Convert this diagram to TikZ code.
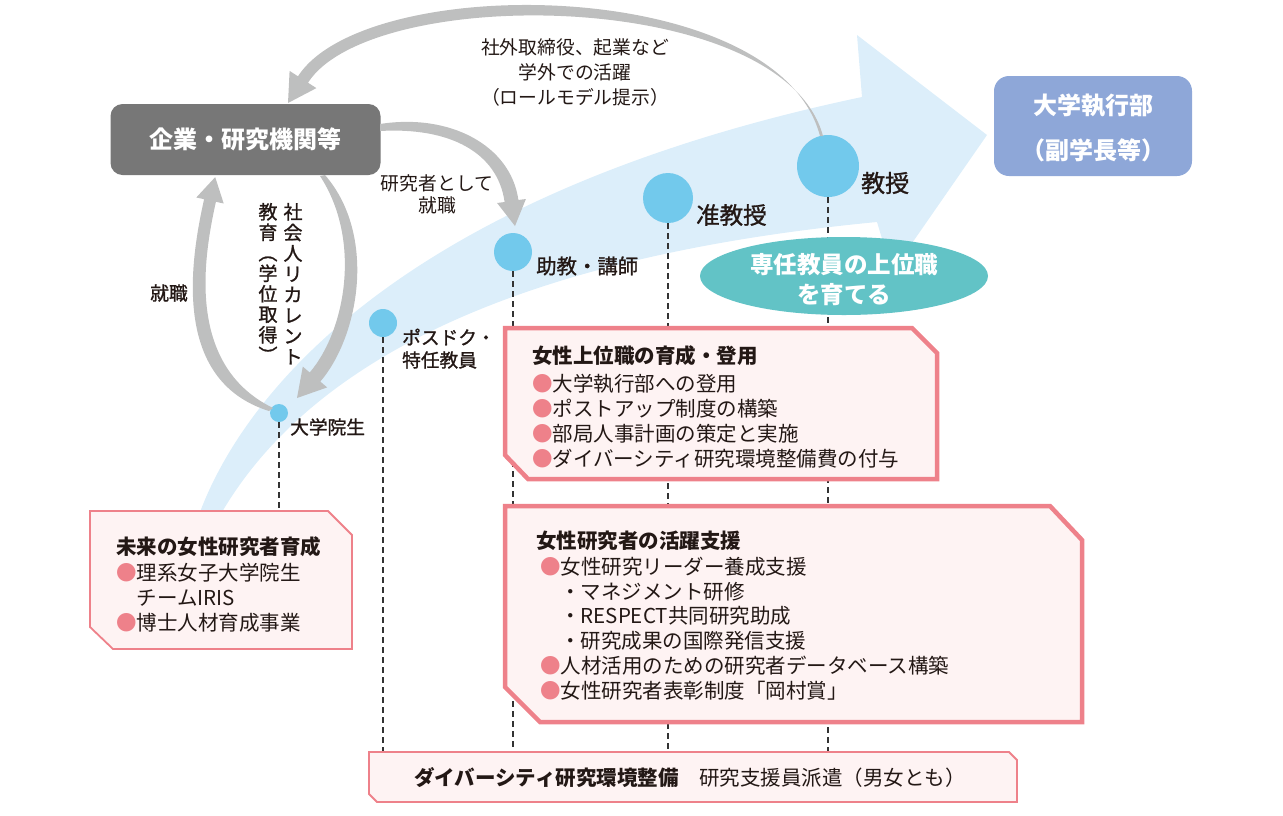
\documentclass[tikz,border=0pt]{standalone}
\usepackage{fontspec}
\setmainfont{Noto Sans CJK JP}
\newfontfamily\medf{Noto Sans CJK JP}[FakeBold=1.2]
\usetikzlibrary{shapes.geometric}
\definecolor{bandc}{HTML}{DCEEFA}
\definecolor{dotc}{HTML}{72C9EC}
\definecolor{grayarr}{HTML}{BEBFBF}
\definecolor{corpc}{HTML}{777777}
\definecolor{execc}{HTML}{8EA7D8}
\definecolor{ellc}{HTML}{62C3C6}
\definecolor{pkfill}{HTML}{FEF3F3}
\definecolor{pk}{HTML}{EE818A}
\definecolor{ink}{HTML}{231815}
\definecolor{dashc}{HTML}{333333}
\newcommand{\pbul}{{\color{pk}●}}
\begin{document}
\begin{tikzpicture}[x=1pt,y=-1pt,
  dot/.style={circle, fill=dotc, draw=none, inner sep=0pt},
  arrfill/.style={fill=grayarr, draw=none},
  dashln/.style={draw=dashc, line width=1.1pt, dash pattern=on 6pt off 4pt},
  pkthin/.style={draw=pk, fill=pkfill, line width=1.8pt, line join=miter},
  pkthick/.style={draw=pk, fill=pkfill, line width=4.5pt, line join=miter},
  txt/.style={inner sep=0pt, text=ink},
  lw/.style={txt, anchor=west},
  itm/.style={lw, font=\fontsize{20.5}{24}\selectfont},
  ttl/.style={lw, font=\fontsize{20.5}{24}\selectfont\bfseries},
  small/.style={txt, font=\fontsize{18.8}{22}\selectfont},
  stage/.style={lw, font=\medf\fontsize{#1}{28}\selectfont},
  vch/.style={txt, font=\medf\fontsize{19}{22}\selectfont, text height=15pt, text depth=4pt},
  wtxt/.style={inner sep=0pt, text=white, font=\fontsize{24}{28}\selectfont\bfseries},
  corp/.style={rectangle, rounded corners=12pt, fill=corpc, minimum width=270pt, minimum height=71pt, inner sep=0pt, text=white, font=\fontsize{24}{28}\selectfont\bfseries},
  execbox/.style={rectangle, rounded corners=15pt, fill=execc, minimum width=198pt, minimum height=100pt, inner sep=0pt},
  goalell/.style={ellipse, fill=ellc, minimum width=288pt, minimum height=78pt, inner sep=0pt}
]
\useasboundingbox (0,0) rectangle (1283,815);

% big light-blue arrow band
\fill[bandc] (200,512) .. controls (250,380) and (420,190) .. (862,97) -- (857,35) -- (987,135) -- (892,272) -- (877,222) .. controls (480,260) and (300,380) .. (222,512) -- cycle;

% circles
\node[dot, minimum size=18pt] (d1) at (279,413) {};
\node[dot, minimum size=28pt] (d2) at (383,323) {};
\node[dot, minimum size=38pt] (d3) at (513,252) {};
\node[dot, minimum size=50pt] (d4) at (668,198) {};
\node[dot, minimum size=62pt] (d5) at (828,166) {};

% boxes
\node[corp] (corp) at (245.5,139.5) {企業・研究機関等};
\node[execbox] (exec) at (1093,126) {};
\node[wtxt] (exec1) at (1093,106) {大学執行部};
\node[wtxt] (exec2) at (1093,150) {（副学長等）};

% gray arrows (tapered)
\fill[arrfill] (820,136) .. controls (778,-25) and (365.5,-28.7) .. (298,76.3) -- (289.6,70.9) -- (288,103) -- (316.4,88.1) -- (308,82.7) .. controls (371.7,-16.4) and (783,-12) .. (823,136) -- cycle;
\fill[arrfill] (380,124) .. controls (450,113) and (510.8,145.5) .. (518.4,200) -- (525.9,199) -- (515,226) -- (497.1,203) -- (504.6,202) .. controls (497.7,152.5) and (450,127) .. (380,131) -- cycle;
\fill[arrfill] (269,411) .. controls (170,380) and (191.1,257.8) .. (204.1,199.2) -- (196.3,197.5) -- (215.2,177.1) -- (223.7,203.5) -- (215.9,201.8) .. controls (204,255.5) and (185,365) .. (273,408) -- cycle;
\fill[arrfill] (325,175) .. controls (377,235) and (359.3,336) .. (320.3,381.6) -- (327.2,387.4) -- (297,398) -- (302.8,366.6) -- (309.7,372.5) .. controls (345.5,330.7) and (362,240) .. (320,176) -- cycle;

% dashed drop lines
\coordinate (topA) at (0,511);
\coordinate (botD) at (0,752);
\draw[dashln] (d1.south) -- (d1.south |- topA);
\draw[dashln] (d2.south) -- (d2.south |- botD);
\draw[dashln] (d3.south) -- (d3.south |- botD);
\draw[dashln] (d4.south) -- (d4.south |- botD);
\draw[dashln] (d5.south) -- (d5.south |- botD);

% goal ellipse
\node[goalell] (goal) at (844,276) {};
\node[wtxt, font=\fontsize{23.5}{28}\selectfont\bfseries] (goal1) at (844,265) {専任教員の上位職};
\node[wtxt, font=\fontsize{23.5}{28}\selectfont\bfseries] (goal2) at (844,295) {を育てる};

% pink boxes
\draw[pkthin] (90,511) -- (328,511) -- (352,535) -- (352,649) -- (113,649) -- (90,627) -- cycle;
\draw[pkthick] (505,328) -- (912,328) -- (937,353) -- (937,479) -- (528,479) -- (505,455) -- cycle;
\draw[pkthick] (505,506) -- (1050,506) -- (1082,540) -- (1082,722) -- (540,722) -- (505,687) -- cycle;
\draw[pkthin] (369,752) -- (1009,752) -- (1017,760) -- (1017,802) -- (377,802) -- (369,794) -- cycle;

% arrow labels
\node[small] (ob1) at (575,47) {社外取締役、起業など};
\node[small] (ob2) at (575,72) {学外での活躍};
\node[small] (ob3) at (575,97) {（ロールモデル提示）};
\node[small] (rs1) at (437,183) {研究者として};
\node[small] (rs2) at (437,205) {就職};
\node[stage=18.8, anchor=center] (job) at (169,293) {就職};
\foreach \vc [count=\i] in {社,会,人,リ,カ,レ,ン,ト}
  \node[vch] (va\i) at (293,{213.5+20.7*(\i-1)}) {\vc};
\foreach \vc [count=\i] in {教,育,︵,学,位,取,得,︶}
  \node[vch] (vb\i) at (268,{213.5+20.5*(\i-1)}) {\vc};

% stage labels
\node[stage=18.7] (l1) at (290,427) {大学院生};
\node[stage=18.7] (l2a) at (402,337) {ポスドク・};
\node[stage=18.7] (l2b) at (402,360) {特任教員};
\node[stage=20.4] (l3) at (536,266) {助教・講師};
\node[stage=23.5] (l4) at (696,215) {准教授};
\node[stage=24] (l5) at (861,183) {教授};

% box A
\node[ttl] (a0) at (116,547) {未来の女性研究者育成};
\node[itm] (a1) at (116,573) {\pbul 理系女子大学院生};
\node[itm] (a2) at (136.5,598) {チームIRIS};
\node[itm] (a3) at (116,623) {\pbul 博士人材育成事業};

% box B
\node[ttl] (b0) at (532,356) {女性上位職の育成・登用};
\node[itm] (b1) at (532,384) {\pbul 大学執行部への登用};
\node[itm] (b2) at (532,409) {\pbul ポストアップ制度の構築};
\node[itm] (b3) at (532,434) {\pbul 部局人事計画の策定と実施};
\node[itm] (b4) at (532,459) {\pbul ダイバーシティ研究環境整備費の付与};

% box C
\node[ttl] (c0) at (536,541) {女性研究者の活躍支援};
\node[itm] (c1) at (540,567) {\pbul 女性研究リーダー養成支援};
\node[itm] (c2) at (560,592) {・マネジメント研修};
\node[itm] (c3) at (560,616) {・RESPECT共同研究助成};
\node[itm] (c4) at (560,641) {・研究成果の国際発信支援};
\node[itm] (c5) at (540,666) {\pbul 人材活用のための研究者データベース構築};
\node[itm] (c6) at (540,691) {\pbul 女性研究者表彰制度「岡村賞」};

% box D
\node[lw, font=\fontsize{20.5}{24}\selectfont] (d0) at (414,778) {\textbf{ダイバーシティ研究環境整備}　研究支援員派遣（男女とも）};
\end{tikzpicture}
\end{document}
